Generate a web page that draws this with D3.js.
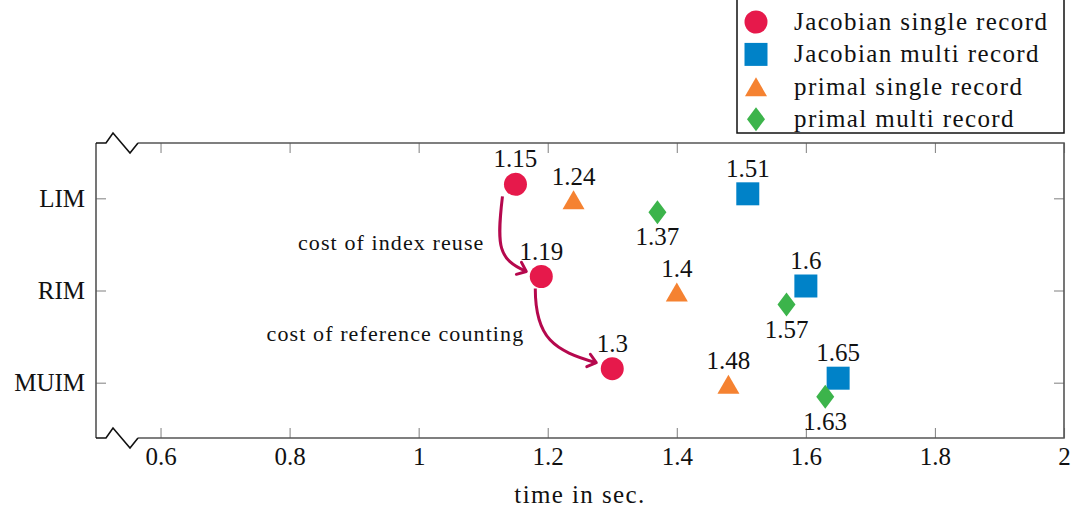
<!DOCTYPE html>
<html>
<head>
<meta charset="utf-8">
<script src="https://cdnjs.cloudflare.com/ajax/libs/d3/7.8.5/d3.min.js"></script>
<style>
  body { margin: 0; background: #fff; }
  svg text { font-family: "Liberation Serif", "DejaVu Serif", serif; fill: #111; }
</style>
</head>
<body>
<script>
// data
var categories = ["LIM", "RIM", "MUIM"];
var seriesNames = ["Jacobian single record", "Jacobian multi record", "primal single record", "primal multi record"];
var jacobianSingle = [1.15, 1.19, 1.3];
var jacobianMulti = [1.51, 1.6, 1.65];
var primalSingle = [1.24, 1.4, 1.48];
var primalMulti = [1.37, 1.57, 1.63];
var xTicks = [0.6, 0.8, 1, 1.2, 1.4, 1.6, 1.8, 2];
var annotations = ["cost of index reuse", "cost of reference counting"];

var W = 1074, H = 512;
// (window.top is read-only, so plot edges get their own names)
var pLeft = 96, pRight = 1064, pTop = 143, pBottom = 438;

var svg = d3.select("body").append("svg").attr("width", W).attr("height", H);

var x = d3.scaleLinear().domain([0.5, 2]).range([pLeft, pRight]);
var y = d3.scalePoint().domain(categories).range([pTop, pBottom]).padding(0.6);

// marker shapes
function shapePath(kind) {
    if (kind == "circle") return "M-11.5,0A11.5,11.5 0 1,0 11.5,0A11.5,11.5 0 1,0 -11.5,0Z";
    if (kind == "square") return "M-11.5,-11.5H11.5V11.5H-11.5Z";
    if (kind == "triangle") return "M0,-9.5L11,9.5L-11,9.5Z";
    return "M0,-12L9,0L0,12L-9,0Z";
}
var halfH = { circle: 11.5, square: 11.5, triangle: 9.5, diamond: 12 };

var series = [
    { name: seriesNames[0], values: jacobianSingle, shape: "circle", color: "#e6194b", off: -14, below: false },
    { name: seriesNames[1], values: jacobianMulti, shape: "square", color: "#0082c8", off: -4.5, below: false },
    { name: seriesNames[2], values: primalSingle, shape: "triangle", color: "#f58231", off: 1.5, below: false },
    { name: seriesNames[3], values: primalMulti, shape: "diamond", color: "#3cb44b", off: 14, below: true }
];

// axes (ticks inward, no domain)
svg.append("g").attr("transform", "translate(0," + pBottom + ")")
    .call(d3.axisBottom(x).tickValues(xTicks).tickSize(-10).tickPadding(9).tickFormat(function(d){ return d; }));
svg.append("g").attr("transform", "translate(0," + pTop + ")")
    .call(d3.axisTop(x).tickValues(xTicks).tickSize(-10).tickFormat(""));
svg.append("g").attr("transform", "translate(" + pLeft + ",0)")
    .call(d3.axisLeft(y).tickSize(-10).tickPadding(11));
svg.append("g").attr("transform", "translate(" + pRight + ",0)")
    .call(d3.axisRight(y).tickSize(-10).tickFormat(""));

svg.selectAll(".domain").remove();
svg.selectAll(".tick line").attr("stroke", "#8a8a8a").attr("stroke-width", 1.1);
svg.selectAll(".tick text").attr("font-size", 25).attr("font-family", "Liberation Serif").attr("fill", "#111");

// frame with axis-break marks
var frame = svg.append("g").attr("fill", "none").attr("stroke-width", 1.6);
frame.append("path").attr("stroke", "#555")
    .attr("d", "M" + pLeft + "," + pTop + "V" + pBottom + "M" + (pLeft + 42) + "," + pTop + "H" + pRight + "V" + pBottom + "H" + (pLeft + 42));
[pTop, pBottom].forEach(function(yy) {
    frame.append("path").attr("stroke", "#111").attr("stroke-linejoin", "miter")
        .attr("d", "M" + pLeft + "," + yy + "H" + (pLeft + 10) + "L" + (pLeft + 17) + "," + (yy - 10) +
              "L" + (pLeft + 34) + "," + (yy + 10) + "L" + (pLeft + 42) + "," + yy);
});

// annotation arrows
var arrowColor = "#b5084d";
svg.append("defs").append("marker").attr("id", "head")
    .attr("viewBox", "-12 -9 16 18").attr("markerWidth", 16).attr("markerHeight", 18)
    .attr("markerUnits", "userSpaceOnUse").attr("refX", 0).attr("refY", 0).attr("orient", "auto")
    .append("path").attr("d", "M-8,-6.5L0,0L-8,6.5").attr("fill", "none")
    .attr("stroke", arrowColor).attr("stroke-width", 3).attr("stroke-linecap", "round").attr("stroke-linejoin", "round");

var s1 = [x(jacobianSingle[0]) - 13, y("LIM") - 14 + 12];
var e1 = [x(jacobianSingle[1]) - 15, y("RIM") - 14 - 5];
var s2 = [x(jacobianSingle[1]) - 6, y("RIM") - 14 + 12];
var e2 = [x(jacobianSingle[2]) - 16, y("MUIM") - 14 - 6];

svg.append("path").attr("fill", "none").attr("stroke", arrowColor).attr("stroke-width", 3)
    .attr("marker-end", "url(#head)")
    .attr("d", "M" + s1 + "C" + [s1[0] - 6, s1[1] + 50] + " " + [e1[0] - 28, e1[1] - 12] + " " + e1);
svg.append("path").attr("fill", "none").attr("stroke", arrowColor).attr("stroke-width", 3)
    .attr("marker-end", "url(#head)")
    .attr("d", "M" + s2 + "C" + [s2[0], s2[1] + 50] + " " + [e2[0] - 42, e2[1] - 12] + " " + e2);

svg.append("text").attr("x", x(jacobianSingle[0]) - 31).attr("y", (y("LIM") + y("RIM")) / 2 + 5.5)
    .attr("text-anchor", "end").attr("font-size", 22).attr("letter-spacing", 1.1).text(annotations[0]);
svg.append("text").attr("x", x(jacobianSingle[1]) - 17).attr("y", (y("RIM") + y("MUIM")) / 2 + 4.5)
    .attr("text-anchor", "end").attr("font-size", 22).attr("letter-spacing", 1.1).text(annotations[1]);

// points and value labels
series.forEach(function(s) {
    var g = svg.append("g");
    g.selectAll("path").data(s.values).enter().append("path")
        .attr("d", shapePath(s.shape))
        .attr("transform", function(d, i) { return "translate(" + x(d) + "," + (y(categories[i]) + s.off) + ")"; })
        .attr("fill", s.color);
    g.selectAll("text").data(s.values).enter().append("text")
        .attr("x", function(d) { return x(d); })
        .attr("y", function(d, i) {
            var cy = y(categories[i]) + s.off;
            return s.below ? cy + halfH[s.shape] + 21 : cy - halfH[s.shape] - 5.5;
        })
        .attr("text-anchor", "middle").attr("font-size", 25)
        .text(function(d) { return d; });
});

// x axis title
svg.append("text").attr("x", (pLeft + pRight) / 2).attr("y", 503).attr("text-anchor", "middle")
    .attr("font-size", 25).attr("letter-spacing", 1.4).text("time in sec.");

// legend
var legend = svg.append("g");
legend.append("rect").attr("x", 737).attr("y", -2).attr("width", 327).attr("height", 135)
    .attr("fill", "#fff").attr("stroke", "#111").attr("stroke-width", 1.5);
var items = legend.selectAll("g.item").data(series).enter().append("g").attr("class", "item")
    .attr("transform", function(d, i) { return "translate(756," + (22 + i * 32.4) + ")"; });
items.append("path").attr("d", function(d) { return shapePath(d.shape); }).attr("fill", function(d) { return d.color; });
items.append("text").attr("x", 38).attr("y", 8).attr("font-size", 25).attr("letter-spacing", 1.4)
    .text(function(d) { return d.name; });
</script>
</body>
</html>
